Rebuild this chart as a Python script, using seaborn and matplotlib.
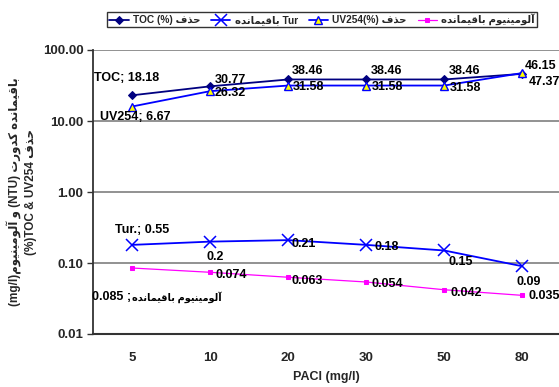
import matplotlib
matplotlib.use("Agg")
import matplotlib.pyplot as plt
import seaborn as sns
import pandas as pd
import numpy as np
from matplotlib.ticker import FixedLocator, FixedFormatter, NullLocator

# ---------------- data ----------------
doses = ["5", "10", "20", "30", "50", "80"]
toc_removal = [23.0, 30.77, 38.46, 38.46, 38.46, 46.15]
uv254_removal = [16.0, 26.32, 31.58, 31.58, 31.58, 47.37]
turbidity = [0.18, 0.20, 0.21, 0.18, 0.15, 0.09]
aluminium = [0.085, 0.074, 0.063, 0.054, 0.042, 0.035]

toc_labels = ["TOC; 18.18", "30.77", "38.46", "38.46", "38.46", "46.15"]
uv_labels = ["UV254; 6.67", "26.32", "31.58", "31.58", "31.58", "47.37"]
tur_labels = ["Tur.; 0.55", "0.2", "0.21", "0.18", "0.15", "0.09"]
al_labels = ["0.085", "0.074", "0.063", "0.054", "0.042", "0.035"]
yticks = [0.01, 0.1, 1, 10, 100]

# ---------------- minimal Persian shaping (visual order) ----------------
FORMS = {
    "\u0627": ("\uFE8D", "\uFE8E"),
    "\u0622": ("\uFE81", "\uFE82"),
    "\u0628": ("\uFE8F", "\uFE90", "\uFE91", "\uFE92"),
    "\u062A": ("\uFE95", "\uFE96", "\uFE97", "\uFE98"),
    "\u062D": ("\uFEA1", "\uFEA2", "\uFEA3", "\uFEA4"),
    "\u062F": ("\uFEA9", "\uFEAA"),
    "\u0630": ("\uFEAB", "\uFEAC"),
    "\u0631": ("\uFEAD", "\uFEAE"),
    "\u0641": ("\uFED1", "\uFED2", "\uFED3", "\uFED4"),
    "\u0642": ("\uFED5", "\uFED6", "\uFED7", "\uFED8"),
    "\u0644": ("\uFEDD", "\uFEDE", "\uFEDF", "\uFEE0"),
    "\u0645": ("\uFEE1", "\uFEE2", "\uFEE3", "\uFEE4"),
    "\u0646": ("\uFEE5", "\uFEE6", "\uFEE7", "\uFEE8"),
    "\u0647": ("\uFEE9", "\uFEEA", "\uFEEB", "\uFEEC"),
    "\u0648": ("\uFEED", "\uFEEE"),
    "\u06CC": ("\uFBFC", "\uFBFD", "\uFBFE", "\uFBFF"),
    "\u06A9": ("\uFB8E", "\uFB8F", "\uFB90", "\uFB91"),
}


def fa(s):
    out = []
    n = len(s)
    for i, c in enumerate(s):
        if c not in FORMS:
            out.append(c)
            continue
        f = FORMS[c]
        prev = s[i - 1] if i > 0 else ""
        nxt = s[i + 1] if i < n - 1 else ""
        pj = prev in FORMS and len(FORMS[prev]) == 4
        nj = len(f) == 4 and nxt in FORMS
        if pj and nj:
            out.append(f[3])
        elif pj:
            out.append(f[1])
        elif nj:
            out.append(f[2])
        else:
            out.append(f[0])
    return "".join(reversed(out))


HADHF = "حذف"
BAQI = "باقیمانده"
ALUM = "آلومینیوم"

FAM = ["Liberation Sans", "DejaVu Sans"]

sns.set_theme(style="white")
plt.rcParams["font.family"] = FAM
plt.rcParams["font.weight"] = "bold"

fig = plt.figure(figsize=(5.59, 3.87), dpi=100)
ax = fig.add_axes([93 / 559, 1 - 334 / 387, 1 - 93 / 559, (334 - 50) / 387])

df = pd.DataFrame({"dose": doses, "toc": toc_removal, "uv": uv254_removal,
                   "tur": turbidity, "al": aluminium})

lbl_toc = "TOC (%) " + fa(HADHF)
lbl_tur = fa(BAQI) + " Tur"
lbl_uv = "UV254(%) " + fa(HADHF)
lbl_al = fa(ALUM + " " + BAQI)

sns.lineplot(data=df, x="dose", y="toc", ax=ax, color="#000080", marker="D",
             markersize=4.5, markeredgecolor="#000080", linewidth=1.3, label=lbl_toc)
sns.lineplot(data=df, x="dose", y="tur", ax=ax, color="#0000FF", marker="x",
             markersize=8, markeredgewidth=1.1, markeredgecolor="#0000FF",
             linewidth=1.3, label=lbl_tur)
sns.lineplot(data=df, x="dose", y="uv", ax=ax, color="#0000FF", marker="^",
             markersize=6, markerfacecolor="#FFFF00", markeredgecolor="#0000FF",
             markeredgewidth=1.0, linewidth=1.3, label=lbl_uv)
sns.lineplot(data=df, x="dose", y="al", ax=ax, color="#FF00FF", marker="s",
             markersize=3, markeredgecolor="#FF00FF", linewidth=0.9, label=lbl_al)

ax.set_yscale("log")
ax.set_ylim(0.01, 100)
ax.set_xlim(-0.5, 5.47)
ax.yaxis.set_major_locator(FixedLocator(yticks))
ax.yaxis.set_major_formatter(FixedFormatter(["%.2f" % v for v in yticks]))
ax.yaxis.set_minor_locator(NullLocator())
ax.grid(axis="y", color="#7f7f7f", linewidth=1.2)
ax.set_axisbelow(True)
for s in ["top", "right"]:
    ax.spines[s].set_visible(False)
ax.spines["left"].set_color("#333333")
ax.spines["bottom"].set_color("#333333")
ax.spines["left"].set_linewidth(1.3)
ax.spines["bottom"].set_linewidth(1.5)
ax.tick_params(axis="y", which="major", left=True, length=4, width=1, color="#333333",
               labelsize=9.5, pad=3)
ax.tick_params(axis="x", bottom=False, labelsize=9.5, pad=7)
for t in ax.get_xticklabels() + ax.get_yticklabels():
    t.set_fontweight("bold")

ax.set_xlabel("PACl (mg/l)", fontsize=9, fontweight="bold", labelpad=5)
ax.set_ylabel("")

ylab1 = "(mg/l)" + fa("و " + ALUM) + " (NTU) " + fa(BAQI + " کدورت")
ylab2 = "(%)TOC & UV254 " + fa(HADHF)
fig.text(14 / 559, 1 - 192 / 387, ylab1, rotation=90, ha="center", va="center",
         fontsize=8.5, fontweight="bold")
fig.text(31 / 559, 1 - 192 / 387, ylab2, rotation=90, ha="center", va="center",
         fontsize=8.5, fontweight="bold")

# ---------------- data labels ----------------
lab_kw = dict(textcoords="offset pixels", fontsize=9, fontweight="bold", color="black")
toc_off = [(-5, 17, "center"), (5, 6, "left"), (4, 8, "left"), (5, 8, "left"),
           (5, 8, "left"), (2, 8, "left")]
uv_off = [(3, -10, "center"), (5, -2, "left"), (5, -1, "left"), (6, -1, "left"),
          (6, -2, "left"), (6, -9, "left")]
tur_off = [(10, 15, "center"), (5, -15, "center"), (3, -4, "left"), (8, -2, "left"),
           (16, -12, "center"), (6, -16, "center")]
al_off = [(-40, -29, "left"), (5, -3, "left"), (3, -4, "left"), (5, -2, "left"),
          (6, -3, "left"), (6, -1, "left")]

for series, labels, offs in [(toc_removal, toc_labels, toc_off),
                             (uv254_removal, uv_labels, uv_off),
                             (turbidity, tur_labels, tur_off)]:
    for i, (v, t, (dx, dy, ha)) in enumerate(zip(series, labels, offs)):
        ax.annotate(t, (i, v), xytext=(dx, dy), ha=ha, va="center", **lab_kw)

for i, (v, t, (dx, dy, ha)) in enumerate(zip(aluminium, al_labels, al_off)):
    txt = t + " ;" if i == 0 else t
    ax.annotate(txt, (i, v), xytext=(dx, dy), ha=ha, va="center", **lab_kw)
# Persian part of the first aluminium label
ax.annotate(fa(ALUM + " " + BAQI), (0, aluminium[0]), xytext=(0, -29),
            textcoords="offset pixels", ha="left", va="center", fontsize=7,
            fontweight="bold", color="black")

# ---------------- legend ----------------
ax.get_legend().remove()
h, l = ax.get_legend_handles_labels()
leg = fig.legend(h, l, loc="center", bbox_to_anchor=(322 / 559, 1 - 19.5 / 387),
                 ncol=4, frameon=True, fancybox=False,
                 handlelength=1.9, handletextpad=0.4, columnspacing=1.1,
                 borderpad=0.2, prop={"weight": "bold", "size": 7.3})
leg.get_frame().set_edgecolor("black")
leg.get_frame().set_linewidth(1.0)

fig.savefig("out.png", dpi=100)
